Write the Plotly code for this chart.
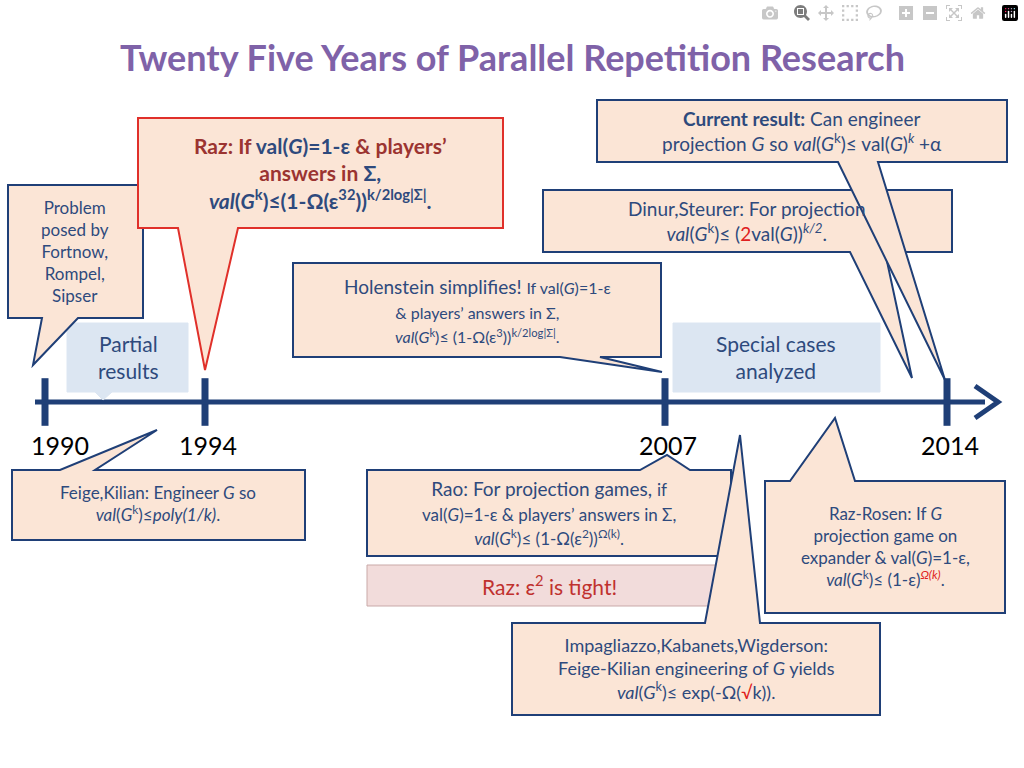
import plotly.graph_objects as go

years = [1990, 1994, 2007, 2014]
year_px = [45, 205, 665, 947]   # where each year sits on the drawn timeline

BLUE = "#1F3F77"
PEACH = "#FBE5D6"
LIGHT = "#DCE6F2"
PINK = "#F2DCDB"
TXT = "#2E4A7D"
G = "<i>G</i>"

fig = go.Figure()
shapes = []
notes = []


def callout(x0, y0, x1, y1, tail=None, side="bottom", fill=PEACH, line=BLUE, lw=2):
    if tail is None:
        p = f"M{x0},{y0} L{x1},{y0} L{x1},{y1} L{x0},{y1} Z"
    elif side == "bottom":
        b1, b2, tx, ty = tail
        p = f"M{x0},{y0} L{x1},{y0} L{x1},{y1} L{b2},{y1} L{tx},{ty} L{b1},{y1} L{x0},{y1} Z"
    else:
        b1, b2, tx, ty = tail
        p = f"M{x0},{y0} L{b1},{y0} L{tx},{ty} L{b2},{y0} L{x1},{y0} L{x1},{y1} L{x0},{y1} Z"
    shapes.append(dict(type="path", path=p, xref="x", yref="y", fillcolor=fill,
                       line=dict(color=line, width=lw), layer="above"))


def text(x, y, s, size=19, color=TXT, align="center"):
    notes.append(dict(x=x, y=y, xref="x", yref="y", text=s, showarrow=False,
                      font=dict(size=size, color=color, family="Lato"), align=align))


# timeline
shapes.append(dict(type="line", x0=35, x1=985, y0=402, y1=402, xref="x", yref="y",
                   line=dict(color=BLUE, width=5)))
shapes.append(dict(type="path", path="M975,386 L998,402 L975,418", xref="x", yref="y",
                   line=dict(color=BLUE, width=5)))
fig.add_trace(go.Scatter(x=year_px, y=[402] * len(years), mode="markers",
                         marker=dict(symbol="line-ns", size=34, line=dict(color=BLUE, width=7)),
                         hoverinfo="skip", showlegend=False))
for yr, px in zip(years, year_px):
    text(px + (15 if yr == 1990 else 3), 445, str(yr), size=25, color="black")

# blue info boxes
callout(67, 323, 188, 392, tail=(95, 112, 103, 400), fill=LIGHT, line=LIGHT, lw=1)
text(128, 357, "Partial<br>results", size=21)
callout(673, 323, 880, 392, fill=LIGHT, line=LIGHT, lw=1)
text(776, 357, "Special cases<br>analyzed", size=21)

# upper callouts
callout(8, 185, 143, 318, tail=(42, 78, 33, 365))
text(75, 251, "Problem<br>posed by<br>Fortnow,<br>Rompel,<br>Sipser", size=17)

callout(543, 190, 952, 252, tail=(850, 885, 912, 378))
text(747, 221, f"Dinur,Steurer: For projection<br><i>val</i>({G}<sup>k</sup>)≤ (<span style='color:#E02020'>2</span>val({G}))<sup><i>k/2</i></sup>.", size=19)

callout(597, 100, 1007, 162, tail=(838, 878, 945, 380))
text(802, 131, f"<b>Current result:</b> Can engineer<br>projection {G} so <i>val</i>({G}<sup>k</sup>)≤ val({G})<sup><i>k</i></sup> +α", size=19)

callout(138, 118, 503, 228, tail=(178, 238, 205, 370), line="#E0302A")
text(320, 173, f"<b><span style='color:#9B3431'>Raz: If</span> val({G})=1-ε <span style='color:#9B3431'>& players’<br>answers in</span> Σ,<br><i>val</i>({G}<sup>k</sup>)≤(1-Ω(ε<sup>32</sup>))<sup>k/2log|Σ|</sup>.</b>", size=21)

callout(293, 263, 661, 357, tail=(560, 600, 662, 372))
text(477, 310, f"Holenstein simplifies! <span style='font-size:16px'>If val({G})=1-ε</span><br><span style='font-size:16px'>& players’ answers in Σ,<br><i>val</i>({G}<sup>k</sup>)≤ (1-Ω(ε<sup>3</sup>))<sup>k/2log|Σ|</sup>.</span>", size=19)

# lower callouts
callout(12, 470, 305, 540, tail=(60, 95, 157, 430), side="top")
text(158, 503, f"Feige,Kilian: Engineer {G} so<br><i>val</i>({G}<sup>k</sup>)≤<i>poly(1/k)</i>.", size=17)

callout(367, 470, 731, 556, tail=(640, 690, 667, 455), side="top")
text(549, 513, f"Rao: For projection games, <span style='font-size:17px'>if</span><br><span style='font-size:17px'>val({G})=1-ε & players’ answers in Σ,<br><i>val</i>({G}<sup>k</sup>)≤ (1-Ω(ε<sup>2</sup>))<sup>Ω(k)</sup>.</span>", size=19)

callout(367, 565, 731, 606, fill=PINK, line="#C9A9A8", lw=1)
text(549, 585, "Raz: ε<sup>2</sup> is tight!", size=21, color="#C0312E")

callout(512, 623, 880, 715, tail=(705, 760, 740, 435), side="top")
text(696, 668, f"Impagliazzo,Kabanets,Wigderson:<br>Feige-Kilian engineering of {G} yields<br><i>val</i>({G}<sup>k</sup>)≤ exp(-Ω(<span style='color:#E02020'>√</span>k)).", size=18)

callout(765, 481, 1005, 613, tail=(790, 855, 835, 418), side="top")
text(885, 546, f"Raz-Rosen: If {G}<br>projection game on<br>expander & val({G})=1-ε,<br><i>val</i>({G}<sup>k</sup>)≤ (1-ε)<sup><span style='color:#E02020'><i>Ω(k)</i></span></sup>.", size=17)

# title
text(512, 57, "<b>Twenty Five Years of Parallel Repetition Research</b>", size=36, color="#7F62A8")

fig.update_layout(
    width=1024, height=768, margin=dict(l=0, r=0, t=0, b=0),
    plot_bgcolor="white", paper_bgcolor="white",
    xaxis=dict(range=[0, 1024], visible=False),
    yaxis=dict(range=[768, 0], visible=False),
    shapes=shapes, annotations=notes,
)
fig.write_html("out.html",
               post_script="document.body.style.margin='0';document.body.style.overflow='hidden';")
